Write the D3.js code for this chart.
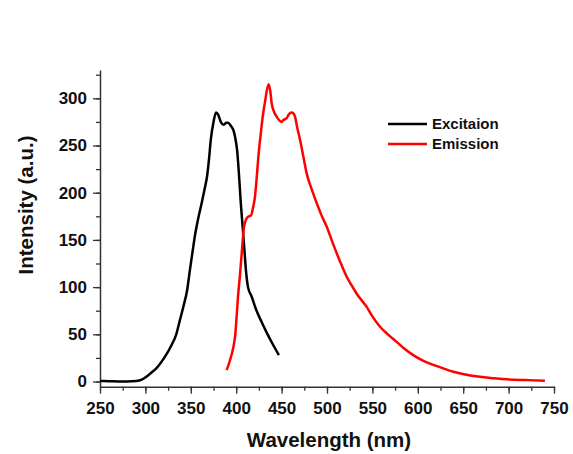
<!DOCTYPE html>
<html>
<head>
<meta charset="utf-8">
<script src="https://cdn.jsdelivr.net/npm/d3@7"></script>
<style>
  html, body { margin: 0; padding: 0; background: #fff; }
  svg { display: block; }
  text { font-family: "Liberation Sans", Arial, sans-serif; font-weight: bold; fill: #111; }
</style>
</head>
<body>
<svg id="chart" width="573" height="454"></svg>
<script>
// ---- data ----
const excitationWl = [250, 260, 270, 280, 290, 296, 301, 306, 312, 320, 329, 334, 338, 342, 346, 349, 352, 355, 358, 362, 365, 368, 370, 372, 375, 377.8, 380, 383, 386, 389, 391, 394, 397, 399, 401, 403, 405, 407, 409, 411, 413, 417, 422, 428, 434, 440, 447];
const excitationVal = [0.5, 0.3, 0, 0, 0.5, 2, 5, 9, 14, 24, 39, 50, 65, 80, 97, 118, 138, 157, 172, 189, 203, 218, 235, 256, 275, 285, 283, 275, 272, 274, 274, 271, 266, 258, 245, 220, 190, 165, 140, 115, 100, 90, 76, 63, 51, 40, 28];

const emissionWl = [389.5, 393, 397, 399, 400.5, 402, 404, 406, 408.6, 411.5, 414, 416.3, 418.5, 420.7, 422.5, 424.4, 427, 429.2, 432, 435.6, 437.5, 439, 442, 444.6, 447, 450, 452, 455.6, 458, 461, 463, 464.8, 467, 470.3, 474, 477.6, 483, 488.7, 494, 499.7, 507, 514, 521.7, 527, 532.7, 543.7, 550, 558.4, 567, 576.7, 585, 595, 604, 613.4, 625, 639, 652, 668.5, 684, 698, 720, 740];
const emissionVal = [12, 22, 37, 50, 69, 90, 111, 135, 164, 173, 175, 176, 184, 196, 215, 238, 262, 280.5, 298, 315, 308, 295, 285, 280.5, 277, 275, 277, 279, 283, 285, 284, 280.5, 270, 256, 238, 220.5, 204, 189, 176, 164, 145, 128, 111, 102, 93, 79, 69, 58, 50, 42, 35, 28, 23, 19, 15, 10.4, 7.5, 5, 3.5, 2.3, 1.5, 0.9];

const xTicks = [250, 300, 350, 400, 450, 500, 550, 600, 650, 700, 750];
const yTicks = [0, 50, 100, 150, 200, 250, 300];
const seriesNames = ["Excitaion", "Emission"];
const seriesColors = ["#000000", "#ff0000"];

// ---- chart ----
const svg = d3.select("#chart");
const x = d3.scaleLinear().domain([250, 750]).range([100, 554]);
const y = d3.scaleLinear().domain([-5.5, 330]).range([386.7, 70]);

const xMinor = d3.range(250, 751, 25);
const yMinor = d3.range(0, 326, 25);
const fontFam = '"Liberation Sans", Arial, sans-serif';

// x axis minor
svg.append("g").attr("transform", "translate(0,386.7)")
  .call(d3.axisBottom(x).tickValues(xMinor).tickSize(4).tickFormat(""))
  .call(g => g.select(".domain").remove())
  .call(g => g.selectAll("line").attr("stroke", "#333").attr("stroke-width", 1.3));
// x axis major
const gx = svg.append("g").attr("transform", "translate(0,386.7)")
  .call(d3.axisBottom(x).tickValues(xTicks).tickSize(7).tickPadding(8).tickSizeOuter(0));
gx.select(".domain").attr("stroke", "#333").attr("stroke-width", 1.5);
gx.selectAll("line").attr("stroke", "#333").attr("stroke-width", 1.3);
gx.selectAll("text").style("font-size", "17px").style("font-family", fontFam).style("font-weight", "bold").attr("fill", "#111");

// y axis minor
svg.append("g").attr("transform", "translate(100,0)")
  .call(d3.axisLeft(y).tickValues(yMinor).tickSize(4).tickFormat(""))
  .call(g => g.select(".domain").remove())
  .call(g => g.selectAll("line").attr("stroke", "#333").attr("stroke-width", 1.3));
// y axis major
const gy = svg.append("g").attr("transform", "translate(100,0)")
  .call(d3.axisLeft(y).tickValues(yTicks).tickSize(7).tickPadding(6).tickSizeOuter(0));
gy.select(".domain").attr("stroke", "#333").attr("stroke-width", 1.5);
gy.selectAll("line").attr("stroke", "#333").attr("stroke-width", 1.3);
gy.selectAll("text").style("font-size", "17px").style("font-family", fontFam).style("font-weight", "bold").attr("fill", "#111");

// axis titles
svg.append("text").attr("x", 329).attr("y", 447).attr("text-anchor", "middle")
  .style("font-size", "20.5px").text("Wavelength (nm)");
svg.append("text").attr("transform", "translate(32.5,205) rotate(-90)").attr("text-anchor", "middle")
  .style("font-size", "20.5px").text("Intensity (a.u.)");

// lines
const line = d3.line().x(d => x(d[0])).y(d => y(d[1])).curve(d3.curveMonotoneX);
const exData = excitationWl.map((w, i) => [w, excitationVal[i]]);
const emData = emissionWl.map((w, i) => [w, emissionVal[i]]);
[exData, emData].forEach((data, i) => {
  svg.append("path").datum(data).attr("d", line)
    .attr("fill", "none").attr("stroke", seriesColors[i]).attr("stroke-width", 2.5)
    .attr("stroke-linejoin", "round");
});

// legend
seriesNames.forEach((name, i) => {
  const ly = 124 + i * 20;
  svg.append("line").attr("x1", 388).attr("x2", 427).attr("y1", ly).attr("y2", ly)
    .attr("stroke", seriesColors[i]).attr("stroke-width", 2.5);
  svg.append("text").attr("x", 432).attr("y", ly).attr("dy", "0.35em")
    .style("font-size", "15px").text(name);
});
</script>
</body>
</html>
